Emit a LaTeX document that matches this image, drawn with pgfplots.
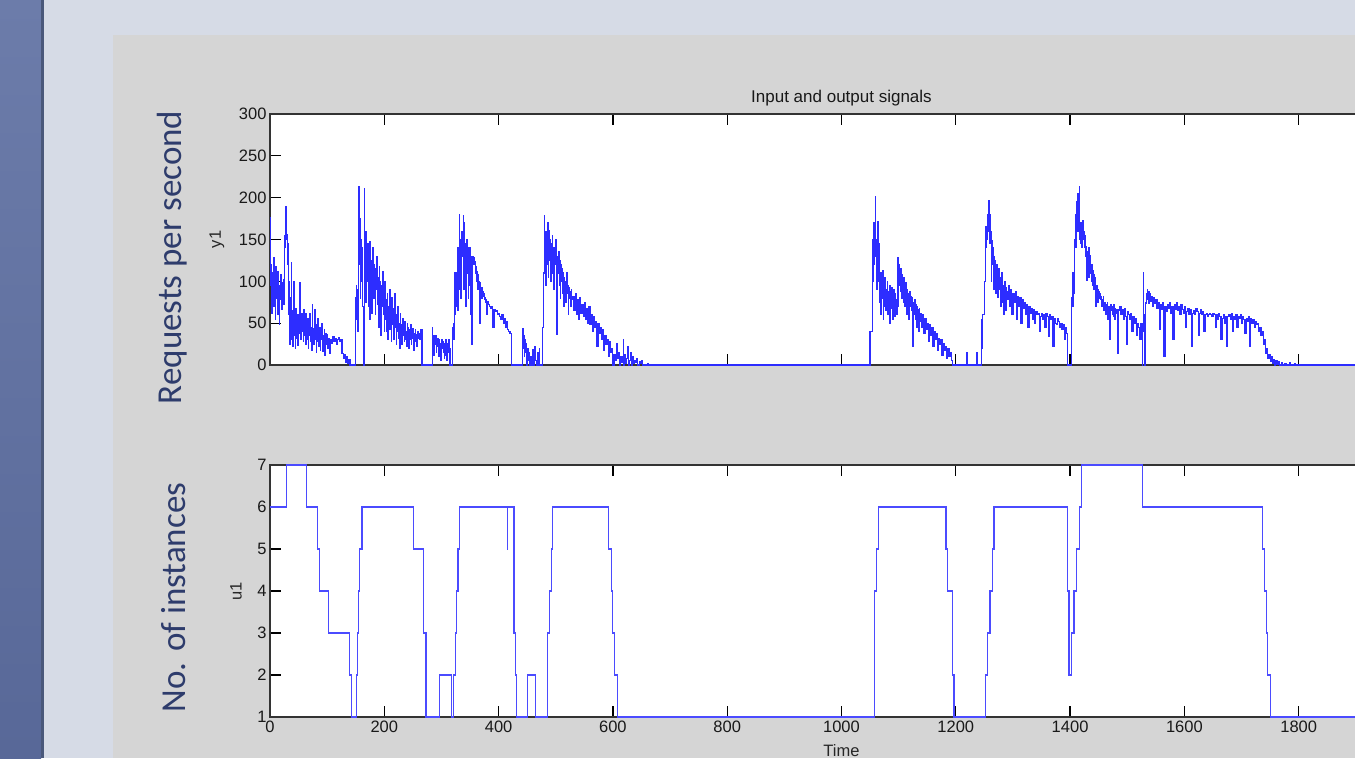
\documentclass[border=0pt]{standalone}
\usepackage{pgfplots}
\pgfplotsset{compat=1.18}
\usepackage{fontspec}
\setmainfont{Liberation Sans}
\newfontfamily\carlito{Carlito}
\definecolor{slidebg}{RGB}{214,219,230}
\definecolor{barA}{RGB}{108,124,170}
\definecolor{barB}{RGB}{88,104,152}
\definecolor{baredge}{RGB}{74,88,122}
\definecolor{figgray}{RGB}{213,213,213}
\definecolor{navy}{RGB}{46,60,108}
\definecolor{sigblue}{RGB}{45,45,255}
\definecolor{stepblue}{RGB}{75,75,255}
\pgfplotsset{myax/.style={
  scale only axis, width=1143pt, anchor=south west,
  xmin=0, xmax=2000, xtick={0,200,...,1800},
  axis background/.style={fill=white},
  axis line style={draw=black!80, line width=1.4pt},
  tick align=inside, major tick length=11pt,
  tick style={black, line width=1.3pt},
  tick label style={font=\fontsize{16.5}{18}\selectfont, text=black!90},
  /pgf/number format/assume math mode=true,
  /pgf/number format/1000 sep={},
  clip=false,
  label style={font=\fontsize{16.5}{18}\selectfont, text=black!85, inner sep=0pt},
}}
\begin{document}
\begin{tikzpicture}[x=1pt,y=1pt]
\path[use as bounding box] (0,0) rectangle (1355,758);
\clip (0,0) rectangle (1355,758);
\fill[slidebg] (0,0) rectangle (1355,758);
\shade[top color=barA, bottom color=barB] (0,0) rectangle (41,758);
\fill[baredge] (41,0) rectangle (43.5,758);
\fill[figgray] (113,0) rectangle (1355,723);
\node[rotate=90, anchor=base, inner sep=0pt, text=navy, font=\carlito\fontsize{35}{40}\selectfont] at (181,500.5) {Requests per second};
\node[rotate=90, anchor=base, inner sep=0pt, text=navy, font=\carlito\fontsize{35}{40}\selectfont] at (185,160.5) {No. of instances};
% ---------- top axis ----------
\begin{axis}[myax, at={(270pt,393pt)}, height=251pt,
  ymin=0, ymax=300, ytick={0,50,...,300},
  xticklabel=\empty,
  title={Input and output signals},
  title style={at={(axis description cs:0.5,1.020)}, anchor=base, yshift=0pt, font=\fontsize{17}{20}\selectfont, text=black!90, inner sep=0pt},
  ylabel={y1},
  ylabel style={at={(axis description cs:-0.0464,0.5)}, anchor=center},
]
\addplot[const plot, sigblue, line width=1.2pt] coordinates {
(0,176)(1,95)(2,120)(3,62)(4,110)(5,85)(6,128)(7,70)(8,100)(9,55)(10,118)(11,80)(12,104)(13,60)(14,112)(15,90)(16,48)(17,95)(18,78)(19,108)(20,66)(21,98)(22,85)(23,102)(24,72)(25,155)(26,140)(27,189)(28,150)(29,156)(30,120)(31,145)(32,60)(33,100)(34,25)(35,80)(36,40)(37,122)(38,30)(39,65)(40,22)(41,100)(42,35)(43,55)(44,20)(45,68)(46,32)(47,50)(48,24)(49,60)(50,38)(51,72)(52,98)(53,48)(54,30)(55,62)(56,40)(57,58)(58,28)(59,66)(60,35)(61,52)(62,25)(63,62)(64,40)(65,30)(66,55)(67,20)(68,48)(69,35)(70,62)(71,28)(72,45)(73,18)(74,72)(75,32)(76,44)(77,25)(78,66)(79,30)(80,48)(81,15)(82,42)(83,28)(84,55)(85,22)(86,38)(87,45)(88,18)(89,40)(90,30)(91,50)(92,16)(93,35)(94,28)(95,42)(96,12)(97,38)(98,25)(99,36)(100,20)(102,32)(104,14)(106,30)(108,26)(110,34)(112,28)(114,32)(116,25)(118,30)(120,33)(122,28)(124,30)(126,14)(128,8)(130,12)(132,3)(134,10)(136,2)(138,6)(140,0)
(149,45)(150,80)(151,95)(152,55)(153,90)(154,40)(155,213)(156,120)(157,175)(158,80)(159,150)(160,100)(161,140)(162,70)(163,0)(165,211)(166,90)(167,160)(168,75)(169,130)(170,100)(171,145)(172,70)(173,118)(174,55)(175,148)(176,85)(177,125)(178,62)(179,110)(180,140)(181,80)(182,120)(183,100)(184,60)(185,115)(186,90)(187,130)(188,72)(189,105)(190,45)(191,118)(192,80)(193,100)(194,35)(195,95)(196,70)(197,112)(198,60)(199,85)(200,40)(201,100)(202,55)(203,78)(204,40)(205,85)(206,30)(207,70)(208,50)(209,90)(210,42)(211,65)(212,28)(213,80)(214,55)(215,48)(216,68)(217,30)(218,85)(219,45)(220,60)(221,25)(222,58)(223,40)(224,70)(225,32)(226,50)(227,20)(228,62)(229,38)(230,48)(231,25)(232,55)(233,35)(234,45)(235,28)(236,52)(237,30)(238,40)(239,22)(240,50)(241,35)(242,45)(243,20)(244,42)(245,30)(246,48)(247,25)(248,40)(249,32)(250,44)(251,18)(252,38)(253,28)(254,42)(255,30)(256,36)(257,22)(258,40)(259,32)(260,38)(262,30)(264,42)(266,0)
(284,45)(285,20)(286,35)(287,12)(288,30)(289,25)(290,35)(291,15)(292,28)(293,22)(294,32)(295,10)(296,30)(297,18)(298,25)(299,5)(300,30)(301,20)(302,28)(303,15)(304,26)(305,8)(306,22)(307,12)(308,30)(309,5)(310,20)(311,25)(312,15)(313,30)(314,20)(315,0)
(320,45)(321,30)(322,50)(323,110)(324,60)(325,100)(326,70)(327,110)(328,65)(329,140)(330,90)(331,180)(332,110)(333,150)(334,80)(335,160)(336,130)(337,145)(338,179)(339,90)(340,170)(341,120)(342,145)(343,70)(344,150)(345,110)(346,140)(347,80)(348,135)(349,95)(350,140)(351,60)(352,130)(353,25)(354,100)(355,130)(356,128)(357,120)(358,124)(359,110)(360,118)(361,100)(362,112)(363,90)(364,108)(365,95)(366,100)(367,50)(368,98)(369,85)(370,92)(371,80)(372,88)(373,82)(374,85)(375,78)(376,80)(377,75)(378,78)(379,60)(380,76)(382,72)(384,70)(386,68)(388,70)(390,45)(392,66)(394,64)(396,65)(398,60)(400,62)(402,58)(404,55)(406,60)(408,50)(410,56)(412,45)(414,52)(416,42)(418,40)(420,38)(422,0)
(442,43)(443,20)(444,35)(445,10)(446,30)(447,15)(448,25)(449,0)(451,20)(452,5)(453,15)(454,0)(456,10)(457,0)(460,18)(461,0)(463,22)(464,5)(466,0)(468,15)(469,0)(471,20)(472,0)
(477,45)(478,60)(479,110)(480,179)(481,115)(482,160)(483,95)(484,150)(485,120)(486,170)(487,105)(488,161)(489,125)(490,150)(491,100)(492,145)(493,130)(494,155)(495,110)(496,140)(497,90)(498,135)(499,120)(500,150)(501,100)(502,36)(503,130)(504,110)(505,135)(506,95)(507,125)(508,80)(509,120)(510,100)(511,115)(512,85)(513,110)(514,70)(515,105)(516,90)(517,100)(518,75)(519,110)(520,85)(521,95)(522,60)(523,92)(524,80)(525,88)(526,70)(527,90)(528,78)(530,82)(532,65)(534,85)(536,60)(538,78)(540,55)(542,80)(544,62)(546,72)(548,58)(550,75)(552,55)(554,68)(556,50)(558,70)(560,48)(562,60)(564,40)(566,58)(568,45)(570,52)(572,22)(574,50)(576,38)(578,45)(580,30)(582,42)(584,18)(586,35)(588,25)(590,30)(592,10)(594,28)(596,15)(598,20)(600,0)(602,12)(604,5)(606,25)(608,8)(610,15)(612,0)(614,10)(616,3)(618,30)(619,0)(621,12)(622,2)(624,8)(626,22)(627,0)(629,5)(631,15)(632,0)(634,10)(635,2)(637,5)(640,3)(642,8)(643,0)(646,4)(648,2)(650,5)(652,0)(660,2)(662,0)
(1050,40)(1053,40)(1054,150)(1055,100)(1056,170)(1057,120)(1058,160)(1059,201)(1060,130)(1061,150)(1062,90)(1063,140)(1064,171)(1065,100)(1066,145)(1067,75)(1068,110)(1069,60)(1070,100)(1071,80)(1072,113)(1073,55)(1074,95)(1075,70)(1076,105)(1077,65)(1078,90)(1079,75)(1080,100)(1081,60)(1082,88)(1083,70)(1084,95)(1085,50)(1086,85)(1087,68)(1088,92)(1089,55)(1090,80)(1091,72)(1092,90)(1093,58)(1094,85)(1095,65)(1096,78)(1097,60)(1098,70)(1099,128)(1100,110)(1101,120)(1102,95)(1103,115)(1104,88)(1105,108)(1106,80)(1107,100)(1108,75)(1109,105)(1110,70)(1111,95)(1112,85)(1113,98)(1114,60)(1115,90)(1116,78)(1117,85)(1118,55)(1119,88)(1120,70)(1121,82)(1122,65)(1123,80)(1124,50)(1125,22)(1126,75)(1127,60)(1128,78)(1129,55)(1130,72)(1131,45)(1132,70)(1133,58)(1134,66)(1135,40)(1136,68)(1137,52)(1138,62)(1140,45)(1142,60)(1144,38)(1146,55)(1148,42)(1150,50)(1152,28)(1154,48)(1156,35)(1158,45)(1160,22)(1162,40)(1164,30)(1166,38)(1168,18)(1170,32)(1172,25)(1174,30)(1176,12)(1178,25)(1180,18)(1182,22)(1184,8)(1186,20)(1188,10)(1190,15)(1192,5)(1194,0)(1219,15)(1220,0)(1237,15)(1238,0)
(1245,20)(1246,54)(1247,60)(1250,100)(1252,140)(1253,165)(1254,150)(1255,180)(1256,160)(1257,190)(1258,197)(1259,180)(1260,145)(1261,160)(1262,100)(1263,149)(1264,120)(1265,140)(1266,90)(1267,130)(1268,105)(1269,125)(1270,85)(1271,120)(1272,95)(1273,110)(1274,81)(1275,115)(1276,90)(1277,105)(1278,70)(1279,100)(1280,85)(1281,110)(1282,75)(1283,95)(1284,60)(1285,100)(1286,80)(1287,92)(1288,65)(1289,88)(1290,78)(1292,95)(1294,70)(1296,90)(1298,60)(1300,85)(1302,75)(1304,88)(1306,55)(1308,82)(1310,70)(1312,80)(1314,50)(1316,78)(1318,68)(1320,75)(1322,60)(1324,72)(1326,45)(1328,70)(1330,62)(1332,68)(1334,55)(1336,66)(1338,50)(1340,64)(1342,60)(1344,62)(1346,40)(1348,58)(1350,62)(1352,55)(1354,60)(1356,45)(1358,62)(1360,58)(1362,34)(1364,60)(1366,55)(1368,58)(1370,22)(1372,56)(1374,50)(1376,48)(1378,55)(1380,52)(1382,45)(1384,50)(1386,42)(1388,48)(1390,30)(1392,45)(1394,38)(1396,0)
(1402,40)(1403,80)(1404,110)(1405,70)(1406,100)(1407,85)(1408,150)(1409,180)(1410,141)(1411,195)(1412,160)(1413,205)(1414,175)(1415,160)(1416,213)(1417,150)(1418,170)(1419,145)(1420,165)(1421,141)(1422,173)(1423,150)(1424,160)(1425,140)(1426,155)(1427,130)(1428,141)(1429,101)(1430,135)(1431,120)(1432,140)(1433,105)(1434,125)(1435,131)(1436,110)(1437,100)(1438,120)(1439,95)(1440,113)(1441,90)(1442,108)(1443,92)(1444,105)(1445,70)(1446,95)(1447,85)(1448,90)(1449,75)(1450,88)(1451,80)(1452,85)(1453,78)(1454,82)(1455,70)(1456,78)(1457,72)(1458,82)(1459,65)(1460,74)(1461,70)(1462,60)(1463,72)(1464,68)(1465,74)(1466,55)(1467,70)(1468,62)(1469,68)(1470,30)(1471,72)(1472,65)(1473,70)(1474,60)(1475,66)(1476,58)(1477,72)(1478,55)(1479,68)(1480,62)(1482,66)(1484,14)(1485,65)(1487,70)(1489,60)(1491,66)(1493,55)(1495,68)(1497,58)(1499,25)(1500,64)(1502,60)(1504,55)(1506,62)(1508,40)(1510,58)(1512,50)(1514,55)(1516,35)(1518,50)(1520,45)(1522,30)(1524,50)(1526,0)(1527,40)(1528,111)(1529,60)(1530,0)(1531,20)
(1532,74)(1533,85)(1534,78)(1535,90)(1536,80)(1537,88)(1538,74)(1539,85)(1540,76)(1542,82)(1544,70)(1546,80)(1548,74)(1550,78)(1552,68)(1554,75)(1556,42)(1558,72)(1560,66)(1562,74)(1564,10)(1566,70)(1568,64)(1570,72)(1572,68)(1574,75)(1576,62)(1578,70)(1580,30)(1582,72)(1584,66)(1586,74)(1588,65)(1590,70)(1592,60)(1594,72)(1596,66)(1598,62)(1600,70)(1602,45)(1604,64)(1606,68)(1608,60)(1610,66)(1612,22)(1614,62)(1616,65)(1618,60)(1620,68)(1622,64)(1624,35)(1626,62)(1628,66)(1630,60)(1632,64)(1634,40)(1636,60)(1638,62)(1640,58)(1642,60)(1644,62)(1646,60)(1648,58)(1650,62)(1652,60)(1654,45)(1656,60)(1658,55)(1660,62)(1662,58)(1664,30)(1666,56)(1668,60)(1670,50)(1672,58)
(1674,22)(1676,58)(1678,60)(1680,55)(1682,62)(1684,40)(1686,58)(1688,55)(1690,60)(1692,45)(1694,58)(1696,56)(1698,60)(1700,50)(1702,58)(1704,54)(1706,38)(1708,56)(1710,52)(1712,58)(1714,22)(1716,55)(1718,50)(1720,54)(1722,45)(1724,52)(1726,48)(1728,50)(1730,40)(1732,45)(1734,35)(1736,40)(1738,25)(1740,30)(1742,14)(1744,20)(1746,8)(1748,12)(1750,4)(1752,10)(1754,2)(1756,6)(1758,0)(1760,5)(1762,1)(1764,4)(1766,0)(1770,3)(1772,0)(1776,2)(1778,0)(1784,3)(1786,0)(1792,2)(1794,0)(2000,0)
};
\end{axis}
% ---------- bottom axis ----------
\begin{axis}[myax, at={(270pt,41pt)}, height=252pt,
  ymin=1, ymax=7, ytick={1,...,7},
  xlabel={Time},
  xlabel style={at={(axis description cs:0.5,-0.134)}, anchor=center},
  ylabel={u1},
  ylabel style={at={(axis description cs:-0.0297,0.5)}, anchor=center},
]
\addplot[const plot, stepblue, line width=1.2pt] coordinates {
(0,6)(29,7)(64,6)(83,5)(87,4)(102,3)(139,2)(142,1)(151,2)(153,3)(155,4)(156,5)(161,6)(251,5)(268,3)(273,1)(297,2)(317,1)(321,2)(324,3)(326,4)(329,5)(332,6)(415,5)(416,6)(427,3)(430,2)(432,1)(451,2)(464,1)(486,3)(489,4)(492,5)(495,6)(593,5)(598,4)(600,3)(603,2)(608,1)(1058,4)(1061,5)(1065,6)(1183,5)(1185,4)(1194,2)(1197,1)(1252,2)(1256,3)(1260,4)(1264,5)(1267,6)(1396,4)(1398,2)(1403,3)(1407,4)(1411,5)(1416,6)(1420,7)(1526,6)(1736,5)(1740,4)(1743,3)(1746,2)(1750,1)(2000,1)
};
\end{axis}
\end{tikzpicture}
\end{document}
